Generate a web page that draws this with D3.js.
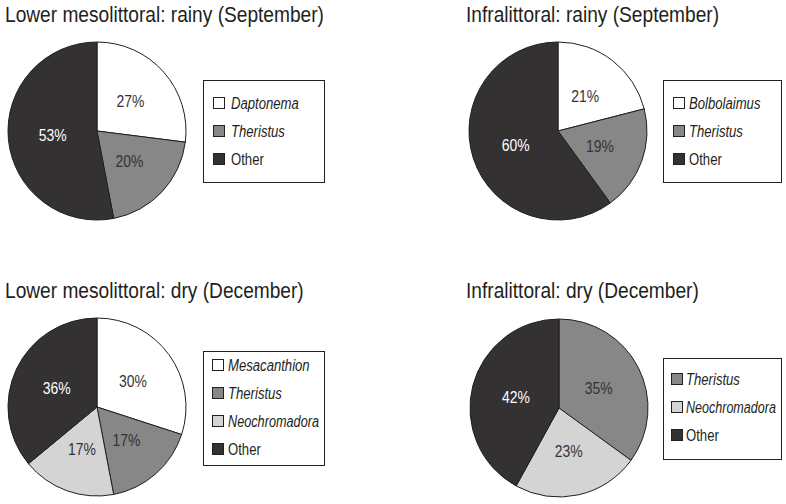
<!DOCTYPE html>
<html><head><meta charset="utf-8">
<script src="https://cdn.jsdelivr.net/npm/d3@7"></script>
<style>
body{margin:0;background:#fff;}
text{font-family:"Liberation Sans",Arial,sans-serif;}
</style></head><body>
<svg id="chart" width="786" height="504"></svg>
<script>
const titles = ["Lower mesolittoral: rainy (September)","Infralittoral: rainy (September)","Lower mesolittoral: dry (December)","Infralittoral: dry (December)"];
const cats1 = ["Daptonema","Theristus","Other"];
const vals1 = [27,20,53];
const cats2 = ["Bolbolaimus","Theristus","Other"];
const vals2 = [21,19,60];
const cats3 = ["Mesacanthion","Theristus","Neochromadora","Other"];
const vals3 = [30,17,17,36];
const cats4 = ["Theristus","Neochromadora","Other"];
const vals4 = [35,23,42];

const colorScale = d3.scaleOrdinal()
  .domain(["Daptonema","Bolbolaimus","Mesacanthion","Theristus","Neochromadora","Other"])
  .range(["#ffffff","#ffffff","#ffffff","#878787","#d4d4d4","#333132"]);
const labelColor = c => c==="Other" ? "#ffffff" : "#333";

const panels = [
  {title:titles[0], cats:cats1, vals:vals1, tx:5, ty:22, cx:97, cy:131, lx:203, ly:80, lw:121, lh:102, top:23, sx:10, lt:28},
  {title:titles[1], cats:cats2, vals:vals2, tx:466, ty:22, cx:558, cy:131, lx:663, ly:80, lw:118, lh:102, top:23, sx:10, lt:26},
  {title:titles[2], cats:cats3, vals:vals3, tx:5, ty:298, cx:97, cy:407, lx:203, ly:351, lw:121, lh:114, top:14, sx:9, lt:25},
  {title:titles[3], cats:cats4, vals:vals4, tx:466, ty:298, cx:559, cy:408, lx:663, ly:358, lw:118, lh:101, top:21, sx:8, lt:23}
];
const R = 89;
const K = 0.87; // horizontal condensation to mimic a condensed typeface
const KL = 0.82;
const svg = d3.select("#chart");
const pie = d3.pie().sort(null).value(d=>d.v);
const arc = d3.arc().innerRadius(0).outerRadius(R);

// draw a horizontally condensed text at (x,y)
function ctext(parent, x, y, str, opts, k, maxW){
  const g = parent.append("g");
  const t = g.append("text").attr("x",0).attr("y",0).text(str);
  Object.entries(opts).forEach(([a,v])=>t.attr(a,v));
  let s = k;
  const w = t.node().getComputedTextLength();
  if (maxW && w*s > maxW) s = maxW / w;
  g.attr("transform",`translate(${x},${y}) scale(${s},1)`);
  return t;
}

panels.forEach(p=>{
  ctext(svg, p.tx, p.ty, p.title, {"font-size":22, fill:"#231f20"}, K);
  const data = p.cats.map((c,i)=>({c, v:p.vals[i]}));
  const g = svg.append("g").attr("transform",`translate(${p.cx},${p.cy})`);
  const arcs = pie(data);
  g.selectAll("path").data(arcs).join("path")
    .attr("d",arc).attr("fill",d=>colorScale(d.data.c))
    .attr("stroke","#231f20").attr("stroke-width",1);
  arcs.forEach(d=>{
    const [x,y] = arc.centroid(d);
    ctext(g, x, y, d.data.v+"%", {"font-size":16, fill:labelColor(d.data.c), "text-anchor":"middle", dy:"0.36em"}, K);
  });
  const rowH = 28;
  const lg = svg.append("g").attr("transform",`translate(${p.lx},${p.ly})`);
  lg.append("rect").attr("x",0.5).attr("y",0.5).attr("width",p.lw).attr("height",p.lh)
    .attr("fill","#fff").attr("stroke","#231f20").attr("stroke-width",1);
  p.cats.forEach((c,i)=>{
    const yc = p.top + i*rowH;
    lg.append("rect").attr("x",p.sx+0.5).attr("y",yc-5.5).attr("width",11).attr("height",11)
      .attr("fill",colorScale(c)).attr("stroke","#231f20").attr("stroke-width",1);
    ctext(lg, p.lt, yc, c, {"font-size":16, fill:"#231f20", dy:"0.36em",
      "font-style": c==="Other"?"normal":"italic"}, KL, p.lw - p.lt - 5);
  });
});
</script></body></html>
